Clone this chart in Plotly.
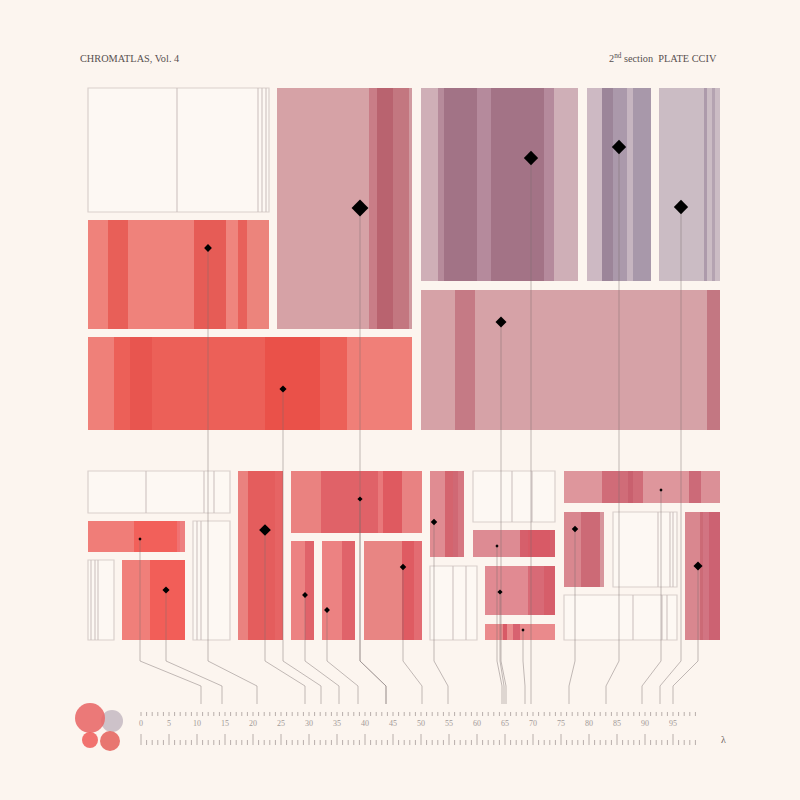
import plotly.graph_objects as go

BG = "#fcf5ef"

# ---------------- tiles (plate units, y grows downward) ----------------
tile_x0 = [88, 277, 88, 88, 421, 587, 659, 421,
           88, 88, 88, 122, 193, 238, 291, 291, 322, 364, 430, 430, 473, 473, 485, 485, 564, 564, 613, 564, 685]
tile_x1 = [269, 412, 269, 412, 578, 651, 720, 720,
           230, 185, 114, 185, 230, 283, 422, 314, 355, 422, 464, 477, 555, 555, 555, 555, 720, 604, 677, 677, 720]
tile_y0 = [88, 88, 220, 337, 88, 88, 88, 290,
           471, 521, 560, 560, 521, 471, 471, 541, 541, 541, 471, 566, 471, 530, 566, 624, 471, 512, 512, 595, 512]
tile_y1 = [212, 329, 329, 430, 281, 281, 281, 430,
           513, 552, 640, 640, 640, 640, 533, 640, 640, 640, 557, 640, 522, 557, 615, 640, 503, 587, 587, 640, 640]
tile_fill = [None, "#d6a2a6", "#ef827b", "#ef8079", "#cfafb7", "#cdb9c3", "#cbbcc4", "#d6a2a7",
             None, "#f07d78", None, "#f07f7a", None, "#ea827f", "#ea8280", "#ec8282", "#ec8282", "#e88583",
             "#e08c92", None, None, "#dd8b93", "#e18a92", "#ea8a8c", "#de969c", "#d9878f", None, None, "#d9878f"]

# ---------------- stripes inside tiles ----------------
stripe_tile = [1, 1, 1, 1,
               2, 2, 2, 2, 2,
               3, 3, 3, 3,
               4, 4, 4, 4, 4,
               5, 5, 5, 5,
               6, 6,
               7, 7,
               9, 9, 9,
               11,
               13, 13,
               14, 14, 14, 14,
               15, 16,
               17, 17,
               18, 18, 18,
               21, 21,
               22, 22,
               23, 23,
               24, 24, 24, 24,
               25, 25,
               28, 28, 28]
stripe_x0 = [369, 377, 393, 409,
             108, 194, 226, 238, 247,
             114, 130, 265, 347,
             438, 444, 477, 491, 544,
             602, 613, 627, 633,
             704, 712,
             455, 707,
             134, 177, 180,
             150,
             248, 275,
             321, 378, 383, 402,
             305, 342,
             402, 414,
             445, 453, 458,
             520, 528,
             528, 544,
             503, 513,
             602, 628, 689, 701,
             581, 600,
             700, 703, 709]
stripe_x1 = [377, 393, 409, 412,
             128, 226, 238, 247, 269,
             347, 152, 320, 412,
             444, 477, 491, 544, 554,
             613, 627, 633, 651,
             707, 715,
             475, 720,
             177, 180, 185,
             185,
             275, 283,
             378, 383, 402, 422,
             314, 355,
             414, 422,
             453, 458, 464,
             555, 550,
             544, 555,
             507, 520,
             643, 633, 701, 720,
             600, 604,
             703, 709, 720]
stripe_color = ["#c97d87", "#b9636f", "#c37780", "#d09aa0",
                "#e85f58", "#e65c56", "#ef857e", "#e8615b", "#ec847c",
                "#ec6058", "#e8554f", "#ea5149", "#f07f78",
                "#b68b9b", "#a27386", "#b58a9c", "#a37386", "#b58a9c",
                "#9c8599", "#ab99ab", "#c6b5c0", "#a898aa",
                "#ad9aab", "#b4a3b1",
                "#c57a85", "#c37782",
                "#f2605a", "#f07272", "#ee8080",
                "#f25e58",
                "#e45d5d", "#e66464",
                "#e06268", "#e9787a", "#df5a60", "#e88282",
                "#e0636a", "#e0636a",
                "#df5b62", "#e36c72",
                "#d4646e", "#d06874", "#d67680",
                "#d65f6b", "#d85a66",
                "#d86a76", "#d65e6a",
                "#d85a66", "#d86270",
                "#d06c78", "#c9606e", "#cc6a78", "#db9097",
                "#cc6a76", "#d7959c",
                "#cc6a76", "#d27482", "#cc6272"]

# ---------------- thin inner rules inside outlined tiles ----------------
rule_tile = [0, 0, 0, 0, 8, 8, 8, 10, 10, 10, 12, 12, 19, 19, 20, 20, 26, 26, 26, 27, 27, 27]
rule_x = [177, 258, 262, 266, 146, 204, 214, 91, 95, 98, 197, 201, 453, 466, 512, 532, 658, 670, 673, 633, 662, 667]

# ---------------- markers and their leaders ----------------
mark_x = [360, 208, 283, 531, 619, 681, 501,
          140, 166, 265, 360, 305, 327, 403, 434, 497, 500, 523, 575, 661, 698]
mark_y = [208, 248, 389, 158, 147, 207, 322,
          539, 590, 530, 499, 595, 610, 567, 522, 546, 592, 630, 529, 490, 566]
mark_size = [13, 6, 5.5, 11, 11, 11, 8.5,
             2.5, 5.5, 9, 4, 4.5, 4.5, 5, 5, 2.5, 4, 2.5, 5, 2.5, 7]
lead_to = [386, 257, 321, 531, 606, 660, 506,
           201, 222, 305, 386, 339, 358, 422, 448, 502, 504, 525, 569, 642, 673]
lead_bend_top, lead_bend_bottom, lead_end = 661, 686, 704

# ---------------- wavelength ruler ----------------
lam_ticks = list(range(0, 100))
lam_labels = list(range(0, 100, 5))
lam_origin, lam_step = 141, 5.6

def lam_pos(v):
    return lam_origin + lam_step * v

# ---------------- legend swatches ----------------
swatch_cx = [112, 90, 90, 110]
swatch_cy = [721, 718, 740, 741]
swatch_r = [11, 15, 8, 10]
swatch_col = ["rgba(196,184,194,0.85)", "rgba(232,104,104,0.88)", "rgba(240,100,96,0.9)", "rgba(230,104,98,0.9)"]

fig = go.Figure()
shapes = []

for i in range(len(tile_x0)):
    if tile_fill[i] is None:
        shapes.append(dict(type="rect", xref="x", yref="y", layer="below",
                           x0=tile_x0[i], x1=tile_x1[i], y0=tile_y0[i], y1=tile_y1[i],
                           fillcolor="#fdf8f3", line=dict(color="#d9d0cc", width=1.2)))
    else:
        shapes.append(dict(type="rect", xref="x", yref="y", layer="below",
                           x0=tile_x0[i], x1=tile_x1[i], y0=tile_y0[i], y1=tile_y1[i],
                           fillcolor=tile_fill[i], line=dict(width=0)))

for t, a, b, c in zip(stripe_tile, stripe_x0, stripe_x1, stripe_color):
    shapes.append(dict(type="rect", xref="x", yref="y", layer="below",
                       x0=a, x1=b, y0=tile_y0[t], y1=tile_y1[t],
                       fillcolor=c, line=dict(width=0)))

for t, xv in zip(rule_tile, rule_x):
    shapes.append(dict(type="line", xref="x", yref="y", layer="below",
                       x0=xv, x1=xv, y0=tile_y0[t], y1=tile_y1[t],
                       line=dict(color="#c9bdbb", width=1)))

for cx, cy, r, c in zip(swatch_cx, swatch_cy, swatch_r, swatch_col):
    shapes.append(dict(type="circle", xref="x", yref="y", layer="below",
                       x0=cx - r, x1=cx + r, y0=cy - r, y1=cy + r,
                       fillcolor=c, line=dict(width=0)))

# leader lines
lx, ly = [], []
for x0, y0, xt in zip(mark_x, mark_y, lead_to):
    lx += [x0, x0, xt, xt, None]
    ly += [y0, lead_bend_top, lead_bend_bottom, lead_end, None]
fig.add_trace(go.Scatter(x=lx, y=ly, mode="lines", hoverinfo="skip",
                         line=dict(color="rgba(120,108,108,0.5)", width=0.9)))

# ruler ticks: upper row
tx, ty = [], []
for v in lam_ticks:
    tx += [lam_pos(v), lam_pos(v), None]
    ty += [712, 716, None]
fig.add_trace(go.Scatter(x=tx, y=ty, mode="lines", hoverinfo="skip",
                         line=dict(color="#b8aeaa", width=1)))
# ruler ticks: lower row
tx, ty = [], []
for v in lam_ticks:
    top = 734 if v % 5 == 0 else 740
    tx += [lam_pos(v), lam_pos(v), None]
    ty += [top, 745, None]
fig.add_trace(go.Scatter(x=tx, y=ty, mode="lines", hoverinfo="skip",
                         line=dict(color="#b8aeaa", width=1)))
fig.add_trace(go.Scatter(x=[lam_pos(v) for v in lam_labels], y=[724] * len(lam_labels),
                         mode="text", text=[str(v) for v in lam_labels], hoverinfo="skip",
                         textfont=dict(family="Liberation Serif, serif", size=8, color="#a39a98")))

# markers
fig.add_trace(go.Scatter(x=mark_x, y=mark_y, mode="markers", hoverinfo="skip",
                         marker=dict(symbol="diamond", size=mark_size, color="#000000",
                                     opacity=1, line=dict(width=0))))

annots = [
    dict(x=78, y=58, text="CHROMATLAS, Vol. 4", xanchor="left", yanchor="middle",
         font=dict(family="Liberation Serif, serif", size=10.3, color="#585050")),
    dict(x=719, y=58, text="2<sup>nd</sup> section\u00a0\u00a0PLATE CCIV", xanchor="right", yanchor="middle",
         font=dict(family="Liberation Serif, serif", size=10.3, color="#585050")),
    dict(x=719, y=739, text="λ", xanchor="left", yanchor="middle",
         font=dict(family="Liberation Serif, serif", size=10, color="#6a6060")),
]
for a in annots:
    a.update(xref="x", yref="y", showarrow=False)

fig.update_layout(
    width=800, height=800, margin=dict(l=0, r=0, t=0, b=0),
    paper_bgcolor=BG, plot_bgcolor=BG, showlegend=False,
    shapes=shapes, annotations=annots,
    xaxis=dict(range=[0, 800], visible=False, fixedrange=True),
    yaxis=dict(range=[800, 0], visible=False, fixedrange=True),
)

fig.write_html("out.html")
